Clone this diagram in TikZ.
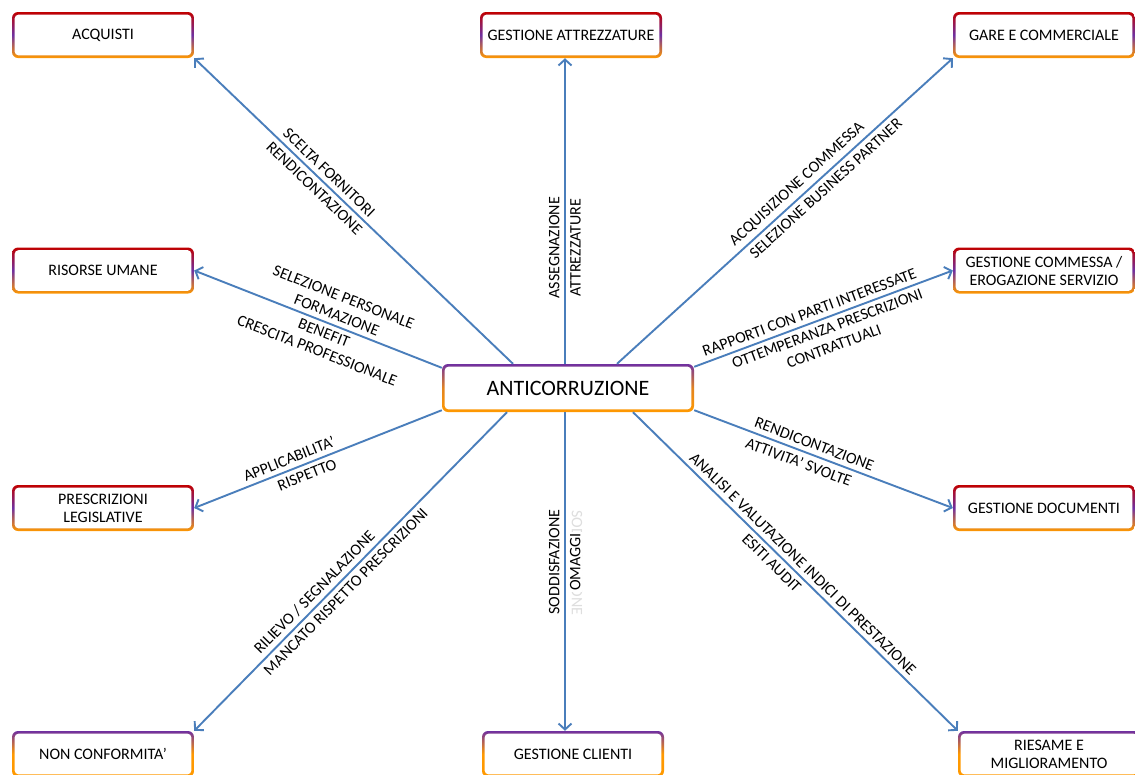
\documentclass[tikz,border=0pt]{standalone}
\usepackage{fontspec}
\setmainfont{Carlito}
\usetikzlibrary{arrows.meta}
\definecolor{lblue}{HTML}{4A7EBB}
\definecolor{bred}{HTML}{C00000}
\definecolor{bpur}{HTML}{7030A0}
\definecolor{bora}{HTML}{FF9900}
\begin{document}
\begin{tikzpicture}[x=1pt,y=-1pt,
  gbox/.style={rectangle, rounded corners=6pt, minimum width=182pt, minimum height=46pt,
    inner sep=2pt, align=center, font=\fontsize{16}{18}\selectfont,
    path picture={\fill[white,rounded corners=4pt]
      ([shift={(2.6pt,-2.6pt)}]path picture bounding box.north west) rectangle
      ([shift={(-2.6pt,2.6pt)}]path picture bounding box.south east);}},
  topbox/.style={gbox, top color=bred, bottom color=bora, middle color=bpur},
  lowbox/.style={gbox, top color=bpur, bottom color=bora, middle color=bora},
  cbox/.style={gbox, minimum width=252pt, minimum height=48pt, font=\fontsize{22}{24}\selectfont,
    top color=bpur, bottom color=bora, middle color=bora!80!bpur},
  arr/.style={draw=lblue, line width=1.9pt, -{Straight Barb[length=6pt,width=13pt]}},
  rarr/.style={draw=lblue, line width=1.9pt, {Straight Barb[length=6pt,width=13pt]}-},
  lbl/.style={sloped, font=\fontsize{16}{19}\selectfont, align=center, inner sep=4.5pt}]
\clip (0,0) rectangle (1135,774);
\fill[white] (0,0) rectangle (1135,774);

% boxes
\node[topbox] (acq) at (103,35) {ACQUISTI};
\node[topbox] (att) at (571,35) {GESTIONE ATTREZZATURE};
\node[topbox] (gare) at (1044,35) {GARE E COMMERCIALE};
\node[topbox] (ris) at (103,270.5) {RISORSE UMANE};
\node[topbox] (com) at (1044,270.5) {GESTIONE COMMESSA /\\EROGAZIONE SERVIZIO};
\node[topbox] (pre) at (103,508) {PRESCRIZIONI\\LEGISLATIVE};
\node[topbox] (doc) at (1044,508) {GESTIONE DOCUMENTI};
\node[lowbox] (nc) at (103,754) {NON CONFORMITA’};
\node[lowbox] (cli) at (573,754) {GESTIONE CLIENTI};
\node[lowbox] (rie) at (1049,754) {RIESAME E\\MIGLIORAMENTO};
\node[cbox] (c) at (568,388) {ANTICORRUZIONE};

% faint ghost text
\node[font=\fontsize{16}{18}\selectfont, text=black!13, rotate=-90, inner sep=0pt] (ghost) at (577,563) {SODDISFAZIONE};

% connectors
\draw[arr] ([xshift=-55pt]c.north) -- (acq.south east)
  node[lbl,above,pos=0.6] {SCELTA FORNITORI}
  node[lbl,below,pos=0.6] {RENDICONTAZIONE};
\draw[arr] ([xshift=-3pt]c.north) -- ([xshift=-6pt]att.south)
  node[lbl,above,pos=0.38] {ASSEGNAZIONE}
  node[lbl,below,pos=0.38] {ATTREZZATURE};
\draw[arr] ([xshift=49pt]c.north) -- (gare.south west)
  node[lbl,above,pos=0.56] {ACQUISIZIONE COMMESSA}
  node[lbl,below,pos=0.6] {SELEZIONE BUSINESS PARTNER};
\draw[arr] ([yshift=-4pt]c.north west) -- (ris.east)
  node[lbl,above,pos=0.44] {SELEZIONE PERSONALE\\FORMAZIONE}
  node[lbl,below,pos=0.46] {BENEFIT\\CRESCITA PROFESSIONALE};
\draw[arr] ([yshift=-3pt]c.north east) -- (com.west)
  node[lbl,above,pos=0.46] {RAPPORTI CON PARTI INTERESSATE}
  node[lbl,below,pos=0.5] {OTTEMPERANZA PRESCRIZIONI\\CONTRATTUALI};
\draw[arr] ([yshift=2pt]c.south west) -- (pre.east)
  node[lbl,above,pos=0.6] {APPLICABILITA’}
  node[lbl,below,pos=0.56] {RISPETTO};
\draw[arr] ([yshift=2pt]c.south east) -- (doc.west)
  node[lbl,above,pos=0.45] {RENDICONTAZIONE}
  node[lbl,below,pos=0.42] {ATTIVITA’ SVOLTE};
\draw[arr] ([xshift=-61pt]c.south) -- (nc.north east)
  node[lbl,above,pos=0.59] {RILIEVO / SEGNALAZIONE}
  node[lbl,below,pos=0.54] {MANCATO RISPETTO PRESCRIZIONI};
\draw[rarr] ([xshift=-8pt]cli.north) -- ([xshift=-3pt]c.south)
  node[lbl,above,pos=0.53] {SODDISFAZIONE}
  node[lbl,below,pos=0.53,fill=white,inner sep=1.5pt,yshift=-2.5pt] {OMAGGI};
\draw[arr] ([xshift=65pt]c.south) -- (rie.north west)
  node[lbl,above,pos=0.5] {ANALISI E VALUTAZIONE INDICI DI PRESTAZIONE}
  node[lbl,below,pos=0.45] {ESITI AUDIT};
\end{tikzpicture}
\end{document}
